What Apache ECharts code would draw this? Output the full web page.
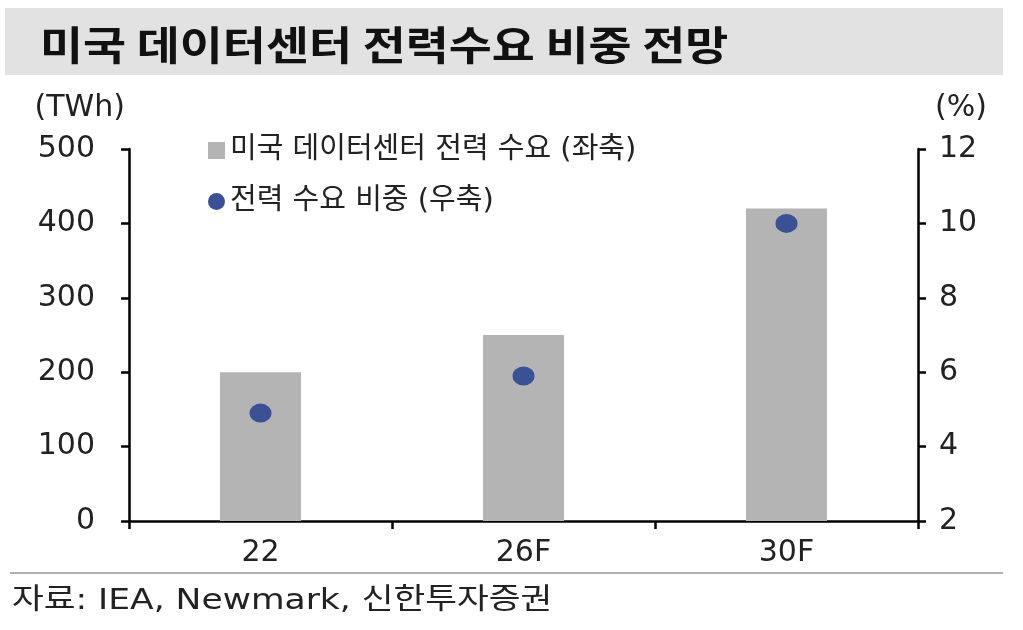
<!DOCTYPE html>
<html>
<head>
<meta charset="utf-8">
<script src="https://cdn.jsdelivr.net/npm/echarts@6/dist/echarts.min.js"></script>
<style>
html,body{margin:0;padding:0;background:#fff;}
#chart{width:1023px;height:630px;}
</style>
</head>
<body>
<div id="chart"></div>
<script>
const categories = ['22', '26F', '30F'];
const demandTWh = [200, 250, 420];
const sharePct = [4.9, 5.9, 10.0];
const leftTicks = [0, 100, 200, 300, 400, 500];
const rightTicks = [2, 4, 6, 8, 10, 12];
const titleText = '미국 데이터센터 전력수요 비중 전망';
const barName = '미국 데이터센터 전력 수요 (좌축)';
const dotName = '전력 수요 비중 (우축)';
const sourceText = '자료: IEA, Newmark, 신한투자증권';

const FONT = '"DejaVu Sans", "Noto Sans CJK KR", sans-serif';
const CJK_BOLD = '"Noto Sans CJK KR", "DejaVu Sans", sans-serif';
const chart = echarts.init(document.getElementById('chart'), null, {renderer: 'canvas'});

const axisLine = {show: true, lineStyle: {color: '#000', width: 2.5}};
const axisTick = {show: true, inside: false, length: 8, lineStyle: {color: '#000', width: 2.5}};

chart.setOption({
  animation: false,
  backgroundColor: '#fff',
  textStyle: {fontFamily: FONT},
  graphic: [
    {type: 'rect', z: -10, shape: {x: 5, y: 8, width: 998, height: 67}, style: {fill: '#e2e2e2'}},
    {type: 'text', x: 40, y: 45, scaleX: 1.17, scaleY: 1,
      style: {text: titleText, font: 'bold 40px ' + CJK_BOLD, fill: '#111', textVerticalAlign: 'middle', textAlign: 'left'}},
    {type: 'line', shape: {x1: 10, y1: 573, x2: 1003, y2: 573}, style: {stroke: '#b0b0b0', lineWidth: 2}},
    {type: 'text', x: 12, y: 601, scaleX: 1.19, scaleY: 1,
      style: {text: sourceText, font: '29px ' + FONT, fill: '#222', textVerticalAlign: 'middle', textAlign: 'left'}}
  ],
  legend: {
    orient: 'vertical',
    left: 203, top: 131,
    itemGap: 22,
    itemWidth: 17, itemHeight: 17,
    textStyle: {fontFamily: FONT, fontSize: 29, color: '#222'},
    data: [{name: barName, icon: 'rect', itemStyle: {color: '#b4b4b4'}}, {name: dotName, icon: 'circle'}]
  },
  grid: {left: 129, right: 105, top: 149, bottom: 109, containLabel: false},
  xAxis: {
    type: 'category',
    data: categories,
    boundaryGap: true,
    axisLine: axisLine,
    axisTick: Object.assign({}, axisTick, {alignWithLabel: false}),
    axisLabel: {fontFamily: FONT, fontSize: 30, color: '#222', margin: 17}
  },
  yAxis: [
    {
      type: 'value', min: leftTicks[0], max: leftTicks[leftTicks.length - 1], interval: 100,
      position: 'left',
      name: '(TWh)', nameLocation: 'end', nameGap: 26,
      nameTextStyle: {fontFamily: FONT, fontSize: 30, color: '#222', align: 'right', padding: [0, 4, 0, 0]},
      axisLine: axisLine, axisTick: axisTick, splitLine: {show: false},
      axisLabel: {fontFamily: FONT, fontSize: 30, color: '#222', margin: 34}
    },
    {
      type: 'value', min: rightTicks[0], max: rightTicks[rightTicks.length - 1], interval: 2,
      position: 'right',
      name: '(%)', nameLocation: 'end', nameGap: 26,
      nameTextStyle: {fontFamily: FONT, fontSize: 30, color: '#222', align: 'left', padding: [0, 0, 0, 17]},
      axisLine: axisLine, axisTick: axisTick, splitLine: {show: false},
      axisLabel: {fontFamily: FONT, fontSize: 30, color: '#222', margin: 21}
    }
  ],
  series: [
    {
      name: barName, type: 'bar', yAxisIndex: 0,
      data: demandTWh, barWidth: 81,
      itemStyle: {color: '#b4b4b4'}
    },
    {
      name: dotName, type: 'scatter', yAxisIndex: 1,
      data: sharePct, symbol: 'circle', symbolSize: [22, 19],
      itemStyle: {color: '#3b5196', opacity: 1}
    }
  ]
});
</script>
</body>
</html>
